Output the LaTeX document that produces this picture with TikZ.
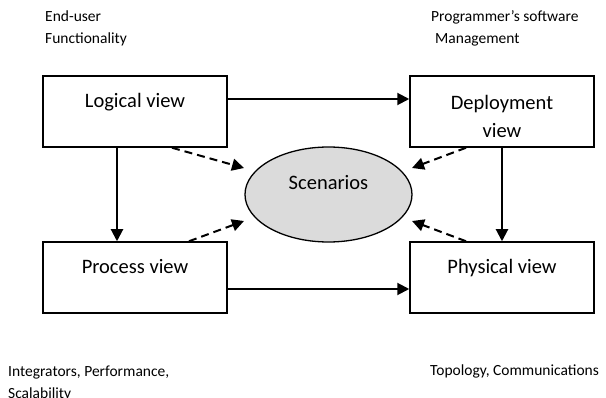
\documentclass[tikz,border=0pt]{standalone}
\usepackage{fontspec}
\setmainfont{Carlito}
\usetikzlibrary{arrows.meta,shapes.geometric}
\begin{document}
\begin{tikzpicture}[x=1pt,y=-1pt,
  viewbox/.style={draw,line width=1.5pt,minimum width=184pt,minimum height=71pt,inner sep=0pt},
  viewtext/.style={font=\fontsize{20.5}{28}\selectfont,align=center,inner sep=0pt},
  note/.style={font=\fontsize{15.5}{22}\selectfont,align=left,anchor=west,inner sep=0pt},
  arr/.style={line width=2pt,-{Triangle[length=12pt,width=12pt]}},
  darr/.style={line width=2pt,dash pattern=on 8pt off 5pt,-{Triangle[length=12pt,width=12pt]}}]
\useasboundingbox (0,0) rectangle (606,398);

% the four views
\node[viewbox] (logical) at (135,111.5) {};
\node[viewbox] (deploy)  at (502,111.5) {};
\node[viewbox] (process) at (135,277.5) {};
\node[viewbox] (physical) at (502,277.5) {};
\node[viewtext] (logicalT)  at (135,102) {Logical view};
\node[viewtext] (deployT)   at (502,116) {Deployment\\view};
\node[viewtext] (processT)  at (135,267) {Process view};
\node[viewtext] (physicalT) at (502,268.5) {Physical view};

% scenarios in the middle
\node[ellipse,draw,line width=1.3pt,fill=black!14,minimum width=167pt,minimum height=95pt,inner sep=0pt] (scen) at (328.5,194.5) {};
\node[viewtext] (scenT) at (328.5,183) {Scenarios};

% stakeholder notes
\node[note] (nLog)  at (45,28) {End-user\\Functionality};
\node[note] (nDep)  at (431,28) {Programmer’s software\\\hspace{4pt}Management};
\node[note] (nProc) at (8,383) {Integrators, Performance,\\Scalability};
\node[note] (nPhys) at (430,371) {Topology, Communications};

% solid flows between views
\draw[arr] ([yshift=12.5pt]logical.east) -- ([yshift=12.5pt]deploy.west);
\draw[arr] ([yshift=-11.5pt]process.east) -- ([yshift=-11.5pt]physical.west);
\draw[arr] ([xshift=-18pt]logical.south) -- ([xshift=-18pt]process.north);
\draw[arr] (deploy.south) -- (physical.north);

% dashed links towards the scenarios
\coordinate (tUL) at ([shift={(-84.5pt,26.5pt)}]scen.center);
\coordinate (tUR) at ([shift={(83.5pt,26.5pt)}]scen.center);
\coordinate (tLL) at ([shift={(-84.5pt,-26.5pt)}]scen.center);
\coordinate (tLR) at ([shift={(83.5pt,-26.5pt)}]scen.center);
\draw[darr] ([xshift=37pt]logical.south) -- (tUL);
\draw[darr] ([xshift=-36pt]deploy.south) -- (tUR);
\draw[darr] ([xshift=54pt]process.north) -- (tLL);
\draw[darr] ([xshift=-36pt]physical.north) -- (tLR);
\end{tikzpicture}
\end{document}
